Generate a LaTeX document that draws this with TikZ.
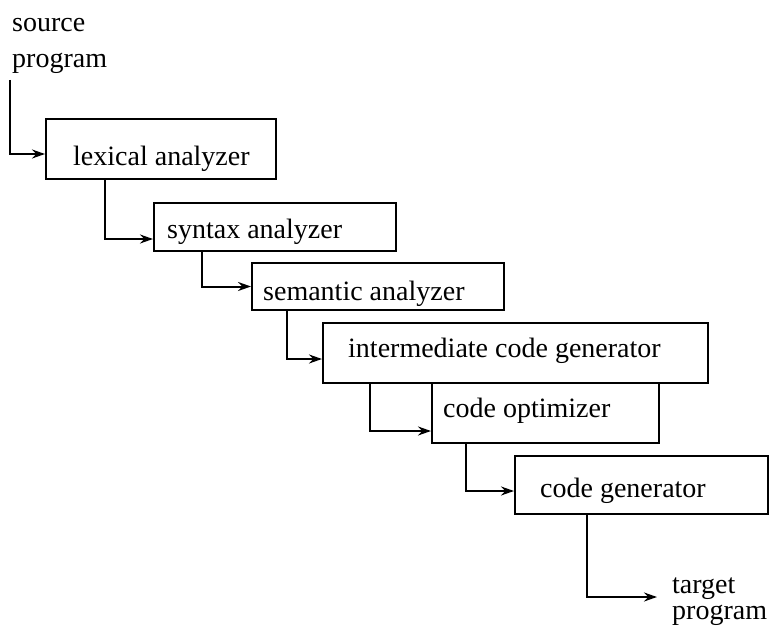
\documentclass[tikz,border=0pt]{standalone}
\usepackage{fontspec}
\setmainfont{Liberation Serif}
\usetikzlibrary{arrows.meta}
\begin{document}
\begin{tikzpicture}[x=1pt,y=-1pt,
  stage/.style={draw,line width=2pt,inner sep=0pt,anchor=north west},
  lbl/.style={inner sep=0pt,anchor=base west,font=\fontsize{28}{30}\selectfont},
  flow/.style={line width=2pt,-{Stealth[length=13pt,width=9pt]}}]
\useasboundingbox (0,0) rectangle (772,626);

% pipeline stages
\node[stage,minimum width=230pt,minimum height=60pt] (lex) at (45,118) {};
\node[stage,minimum width=242pt,minimum height=48pt] (syn) at (153,202) {};
\node[stage,minimum width=252pt,minimum height=47pt] (sem) at (251,262) {};
\node[stage,minimum width=385pt,minimum height=60pt] (int) at (322,322) {};
\node[stage,minimum width=227pt,minimum height=60pt] (opt) at (431,382) {};
\node[stage,minimum width=253pt,minimum height=58pt] (gen) at (514,455) {};

% stage names
\node[lbl] (lexT) at (73,165) {lexical analyzer};
\node[lbl] (synT) at (167,238) {syntax analyzer};
\node[lbl] (semT) at (263,300) {semantic analyzer};
\node[lbl] (intT) at (348,357) {intermediate code generator};
\node[lbl] (optT) at (443,417) {code optimizer};
\node[lbl] (genT) at (540,497) {code generator};

% input and output
\node[lbl] (srcA) at (12,32) {source};
\node[lbl] (srcB) at (12,68) {program};
\node[lbl] (tgtA) at (672,593) {target};
\node[lbl] (tgtB) at (672,619) {program};
\coordinate (in) at (10,80);
\coordinate (out) at (657,597);

% data flow
\draw[flow] (in) |- ([yshift=-5pt]lex.west);
\draw[flow] ([xshift=60pt]lex.south west) |- ([yshift=-12pt]syn.west);
\draw[flow] ([xshift=49pt]syn.south west) |- (sem.west);
\draw[flow] ([xshift=36pt]sem.south west) |- ([yshift=-6pt]int.west);
\draw[flow] ([xshift=48pt]int.south west) |- ([yshift=-18pt]opt.west);
\draw[flow] ([xshift=35pt]opt.south west) |- ([yshift=-6pt]gen.west);
\draw[flow] ([xshift=73pt]gen.south west) |- (out);
\end{tikzpicture}
\end{document}
